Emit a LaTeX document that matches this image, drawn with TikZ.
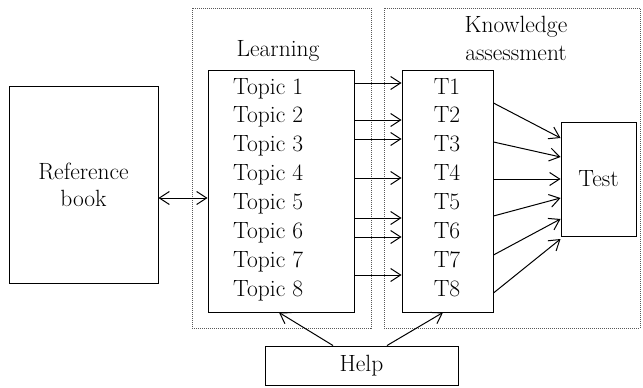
\documentclass[tikz,border=0pt]{standalone}
\usetikzlibrary{arrows.meta}
\begin{document}
\begin{tikzpicture}[x=1pt,y=-1pt, font=\fontsize{23.5}{27}\selectfont,
 box/.style={draw, line width=0.95pt, rectangle, inner sep=0pt, align=center},
 zone/.style={draw=black!65, densely dotted, line width=1pt, rectangle, inner sep=0pt},
 arr/.style={-{Straight Barb[length=10pt,width=13pt,line width=1pt]}, line width=1pt},
 darr/.style={{Straight Barb[length=10pt,width=13pt,line width=1pt]}-{Straight Barb[length=10pt,width=13pt,line width=1pt]}, line width=1pt},
 lbl/.style={anchor=base, inner sep=0pt}]
\useasboundingbox (0,0) rectangle (643,388);
% zones
\node[zone, minimum width=179pt, minimum height=320pt] (lz) at (281.5,168) {};
\node[zone, minimum width=256pt, minimum height=320pt] (kz) at (512,168) {};
% boxes
\node[box, minimum width=149pt, minimum height=197pt] (ref) at (83.5,184.5) {Reference\\book};
\node[box, minimum width=146pt, minimum height=242pt] (learn) at (281,191) {};
\node[box, minimum width=91pt, minimum height=242pt] (tb) at (447.5,191) {};
\node[box, minimum width=75pt, minimum height=114pt] (test) at (598.5,179) {Test};
\node[box, minimum width=193pt, minimum height=39pt] (help) at (361.5,365.5) {Help};
% labels
\node[lbl] (ll) at (278,56) {Learning};
\node[lbl] (kl1) at (516,32) {Knowledge};
\node[lbl] (kl2) at (516,60) {assessment};
\foreach \i in {1,...,8}{
  \node[anchor=base west, inner sep=0pt] (tp\i) at (233,{94+28.86*(\i-1)}) {Topic \i};
  \node[lbl] (t\i) at (447,{94+28.86*(\i-1)}) {T\i};
}
% connectors
\draw[darr] (ref.east |- 0,198) -- (learn.west |- 0,198);
\foreach \y in {83,120,139,178,218,237,275}
  \draw[arr] (learn.east |- 0,\y) -- (tb.west |- 0,\y);
\foreach \a/\b in {103/138,142/157,179/179,216/198,255/219,293/239}
  \draw[arr] (tb.east |- 0,\a) -- (test.west |- 0,\b);
\draw[arr] (help.north -| 333,0) -- (learn.south -| 279,0);
\draw[arr] (help.north -| 387,0) -- (tb.south -| 443,0);
\end{tikzpicture}
\end{document}
